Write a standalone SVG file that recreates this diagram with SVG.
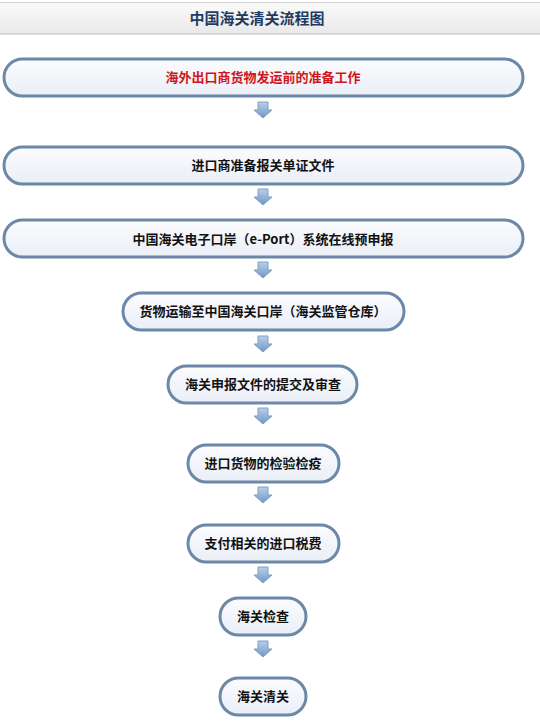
<svg xmlns="http://www.w3.org/2000/svg" width="540" height="725" viewBox="0 0 540 725">
<style>
.node rect{fill:url(#nf);stroke:#6b88a8;stroke-width:3}
.node .sh{fill:none;stroke:#c9d2dc;stroke-width:2;opacity:.6}
.node text{font-family:"Microsoft YaHei","Noto Sans CJK SC",sans-serif;font-size:13px;font-weight:bold;fill:#111;text-anchor:middle}
.arrow{fill:url(#af);stroke:#7f9fc4;stroke-width:1;stroke-linejoin:round}
</style>
<defs>
<linearGradient id="nf" x1="0" y1="0" x2="0" y2="1">
<stop offset="0" stop-color="#fbfcfe"/>
<stop offset="1" stop-color="#eaeef6"/>
</linearGradient>
<linearGradient id="af" x1="0" y1="0" x2="0" y2="1">
<stop offset="0" stop-color="#b9cfe9"/>
<stop offset="1" stop-color="#6f96c6"/>
</linearGradient>
<linearGradient id="hf" x1="0" y1="0" x2="0" y2="1">
<stop offset="0" stop-color="#fafafa"/>
<stop offset="1" stop-color="#e9e9e9"/>
</linearGradient>
<path id="arr" d="M-5,0 H5 V8 H9 L0,16 L-9,8 H-5 Z"/>
</defs>
<rect width="540" height="725" fill="#ffffff"/>
<g id="header">
<rect x="0" y="2" width="540" height="32" fill="url(#hf)"/>
<line x1="0" y1="2.5" x2="540" y2="2.5" stroke="#d4d4d4" stroke-width="1"/>
<line x1="0" y1="34" x2="540" y2="34" stroke="#cfcfcf" stroke-width="1.5"/>
<text x="257" y="23.5" font-family="Microsoft YaHei,'Noto Sans CJK SC',sans-serif" font-size="15" font-weight="bold" fill="#1f3b63" text-anchor="middle">中国海关清关流程图</text>
</g>
<g id="n1" class="node"><rect x="4" y="59" width="519" height="37" rx="18.5"/><text x="263" y="82" style="fill:#d0161b">海外出口商货物发运前的准备工作</text></g>
<g id="n2" class="node"><rect x="4" y="147" width="519" height="37" rx="18.5"/><text x="263" y="170">进口商准备报关单证文件</text></g>
<g id="n3" class="node"><rect x="4" y="220" width="519" height="37" rx="18.5"/><text x="263" y="244">中国海关电子口岸（e-Port）系统在线预申报</text></g>
<g id="n4" class="node"><rect x="123" y="293" width="281" height="37" rx="18.5"/><text x="263" y="316">货物运输至中国海关口岸（海关监管仓库）</text></g>
<g id="n5" class="node"><rect x="168" y="366" width="189" height="37" rx="18.5"/><text x="263" y="389">海关申报文件的提交及审查</text></g>
<g id="n6" class="node"><rect x="188" y="445" width="151" height="37" rx="18.5"/><text x="263" y="468">进口货物的检验检疫</text></g>
<g id="n7" class="node"><rect x="188" y="525" width="151" height="37" rx="18.5"/><text x="263" y="548">支付相关的进口税费</text></g>
<g id="n8" class="node"><rect x="220" y="598" width="86" height="37" rx="18.5"/><text x="263" y="621">海关检查</text></g>
<g id="n9" class="node"><rect x="220" y="678" width="86" height="37" rx="18.5"/><text x="263" y="701">海关清关</text></g>
<g id="connectors">
<use href="#arr" class="arrow" x="263" y="102"/>
<use href="#arr" class="arrow" x="263" y="189"/>
<use href="#arr" class="arrow" x="263" y="262"/>
<use href="#arr" class="arrow" x="263" y="336"/>
<use href="#arr" class="arrow" x="263" y="408"/>
<use href="#arr" class="arrow" x="263" y="487"/>
<use href="#arr" class="arrow" x="263" y="567"/>
<use href="#arr" class="arrow" x="263" y="641"/>
</g>
</svg>
